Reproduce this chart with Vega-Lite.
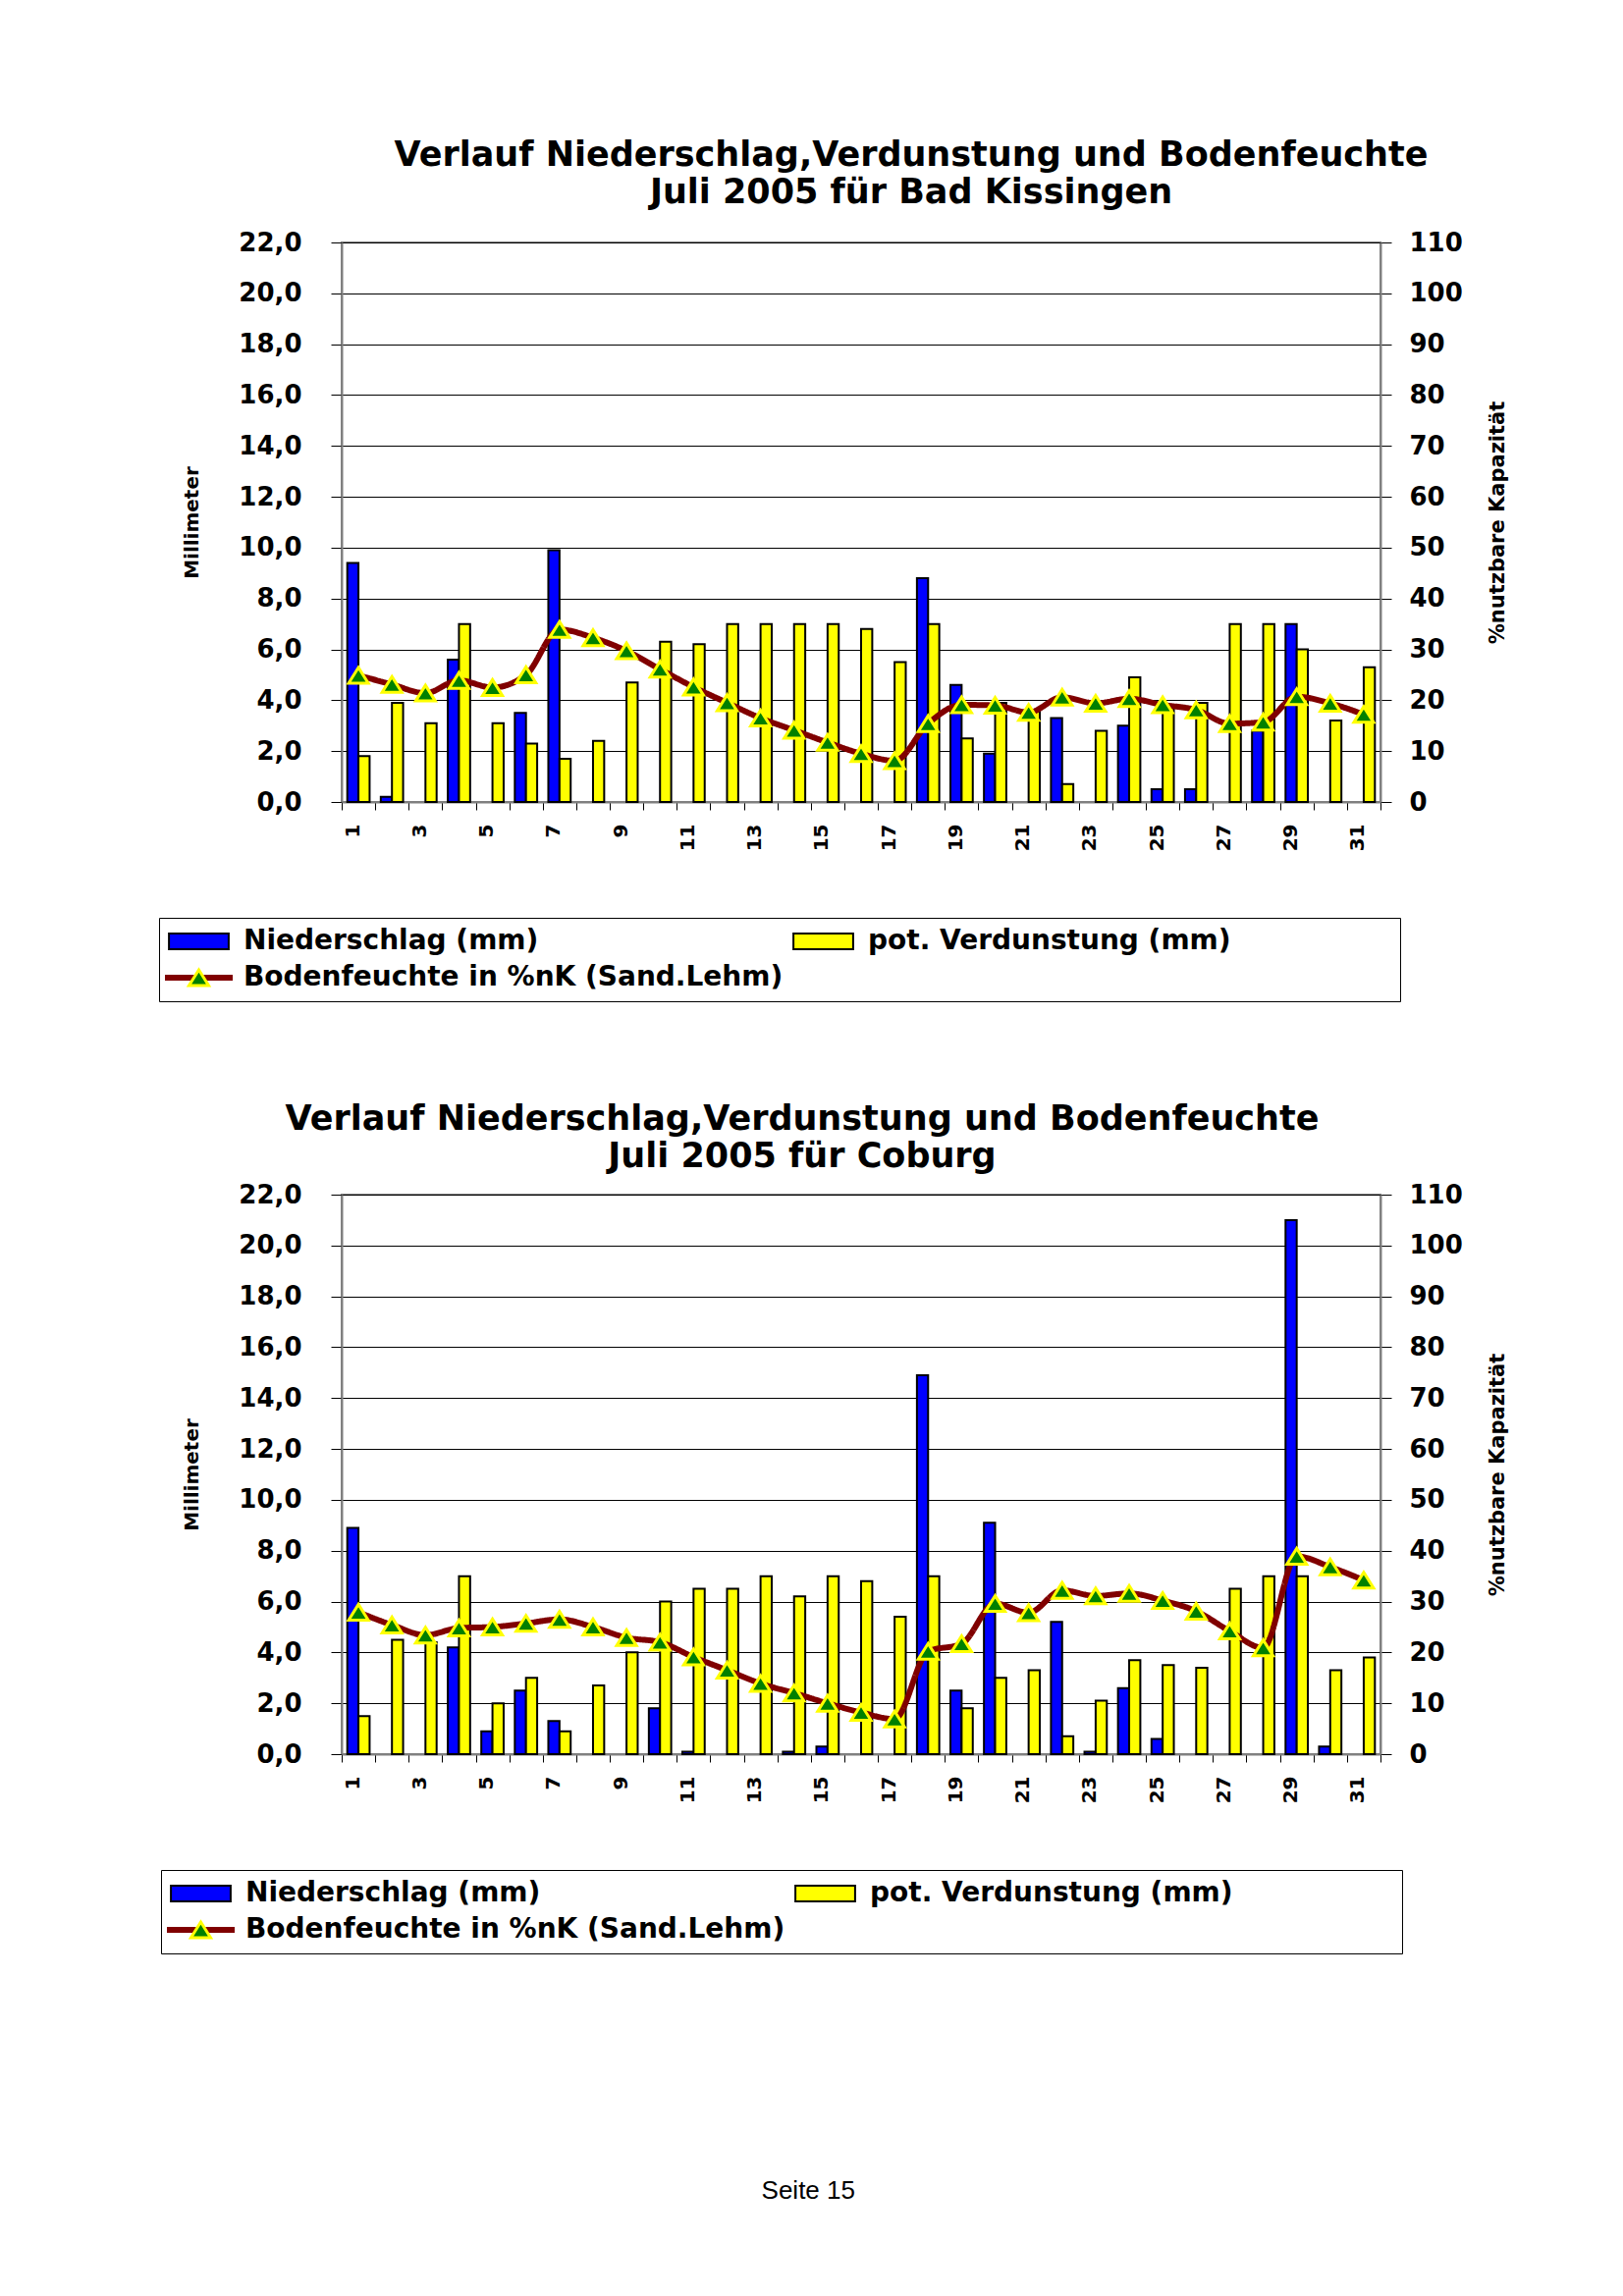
{
  "$schema": "https://vega.github.io/schema/vega-lite/v6.json",
  "background": "white",
  "padding": {"left": 160, "top": 140, "right": 10, "bottom": 10},
  "config": {
    "font": "DejaVu Sans",
    "view": {"stroke": "#808080", "strokeWidth": 2},
    "axis": {"labelFont": "DejaVu Sans", "labelFontWeight": "bold", "labelColor": "black", "titleFont": "DejaVu Sans", "titleFontWeight": "bold", "titleColor": "black", "tickColor": "black", "tickWidth": 1, "domainColor": "#808080", "domainWidth": 2, "labelOverlap": false, "labelFlush": false, "labelBound": false},
    "legend": {"labelFont": "DejaVu Sans", "labelFontWeight": "bold", "labelColor": "black", "labelLimit": 1000, "titleLimit": 1000},
    "title": {"font": "DejaVu Sans", "fontSize": 35, "fontWeight": "bold", "color": "black", "anchor": "middle", "frame": "group", "lineHeight": 38}
  },
  "datasets": {
    "bk_bars": [
      {"day": 1, "series": "Niederschlag (mm)", "value": 9.4},
      {"day": 2, "series": "Niederschlag (mm)", "value": 0.2},
      {"day": 4, "series": "Niederschlag (mm)", "value": 5.6},
      {"day": 6, "series": "Niederschlag (mm)", "value": 3.5},
      {"day": 7, "series": "Niederschlag (mm)", "value": 9.9},
      {"day": 18, "series": "Niederschlag (mm)", "value": 8.8},
      {"day": 19, "series": "Niederschlag (mm)", "value": 4.6},
      {"day": 20, "series": "Niederschlag (mm)", "value": 1.9},
      {"day": 22, "series": "Niederschlag (mm)", "value": 3.3},
      {"day": 24, "series": "Niederschlag (mm)", "value": 3.0},
      {"day": 25, "series": "Niederschlag (mm)", "value": 0.5},
      {"day": 26, "series": "Niederschlag (mm)", "value": 0.5},
      {"day": 28, "series": "Niederschlag (mm)", "value": 2.8},
      {"day": 29, "series": "Niederschlag (mm)", "value": 7.0},
      {"day": 1, "series": "pot. Verdunstung (mm)", "value": 1.8},
      {"day": 2, "series": "pot. Verdunstung (mm)", "value": 3.9},
      {"day": 3, "series": "pot. Verdunstung (mm)", "value": 3.1},
      {"day": 4, "series": "pot. Verdunstung (mm)", "value": 7.0},
      {"day": 5, "series": "pot. Verdunstung (mm)", "value": 3.1},
      {"day": 6, "series": "pot. Verdunstung (mm)", "value": 2.3},
      {"day": 7, "series": "pot. Verdunstung (mm)", "value": 1.7},
      {"day": 8, "series": "pot. Verdunstung (mm)", "value": 2.4},
      {"day": 9, "series": "pot. Verdunstung (mm)", "value": 4.7},
      {"day": 10, "series": "pot. Verdunstung (mm)", "value": 6.3},
      {"day": 11, "series": "pot. Verdunstung (mm)", "value": 6.2},
      {"day": 12, "series": "pot. Verdunstung (mm)", "value": 7.0},
      {"day": 13, "series": "pot. Verdunstung (mm)", "value": 7.0},
      {"day": 14, "series": "pot. Verdunstung (mm)", "value": 7.0},
      {"day": 15, "series": "pot. Verdunstung (mm)", "value": 7.0},
      {"day": 16, "series": "pot. Verdunstung (mm)", "value": 6.8},
      {"day": 17, "series": "pot. Verdunstung (mm)", "value": 5.5},
      {"day": 18, "series": "pot. Verdunstung (mm)", "value": 7.0},
      {"day": 19, "series": "pot. Verdunstung (mm)", "value": 2.5},
      {"day": 20, "series": "pot. Verdunstung (mm)", "value": 3.9},
      {"day": 21, "series": "pot. Verdunstung (mm)", "value": 3.6},
      {"day": 22, "series": "pot. Verdunstung (mm)", "value": 0.7},
      {"day": 23, "series": "pot. Verdunstung (mm)", "value": 2.8},
      {"day": 24, "series": "pot. Verdunstung (mm)", "value": 4.9},
      {"day": 25, "series": "pot. Verdunstung (mm)", "value": 3.8},
      {"day": 26, "series": "pot. Verdunstung (mm)", "value": 3.9},
      {"day": 27, "series": "pot. Verdunstung (mm)", "value": 7.0},
      {"day": 28, "series": "pot. Verdunstung (mm)", "value": 7.0},
      {"day": 29, "series": "pot. Verdunstung (mm)", "value": 6.0},
      {"day": 30, "series": "pot. Verdunstung (mm)", "value": 3.2},
      {"day": 31, "series": "pot. Verdunstung (mm)", "value": 5.3}
    ],
    "bk_line": [
      {"day": 1, "bf": 24.9, "series": "Bodenfeuchte in %nK (Sand.Lehm)", "m": "BF"},
      {"day": 2, "bf": 23.1, "series": "Bodenfeuchte in %nK (Sand.Lehm)", "m": "BF"},
      {"day": 3, "bf": 21.4, "series": "Bodenfeuchte in %nK (Sand.Lehm)", "m": "BF"},
      {"day": 4, "bf": 23.9, "series": "Bodenfeuchte in %nK (Sand.Lehm)", "m": "BF"},
      {"day": 5, "bf": 22.5, "series": "Bodenfeuchte in %nK (Sand.Lehm)", "m": "BF"},
      {"day": 6, "bf": 25.0, "series": "Bodenfeuchte in %nK (Sand.Lehm)", "m": "BF"},
      {"day": 7, "bf": 33.9, "series": "Bodenfeuchte in %nK (Sand.Lehm)", "m": "BF"},
      {"day": 8, "bf": 32.3, "series": "Bodenfeuchte in %nK (Sand.Lehm)", "m": "BF"},
      {"day": 9, "bf": 29.7, "series": "Bodenfeuchte in %nK (Sand.Lehm)", "m": "BF"},
      {"day": 10, "bf": 26.1, "series": "Bodenfeuchte in %nK (Sand.Lehm)", "m": "BF"},
      {"day": 11, "bf": 22.6, "series": "Bodenfeuchte in %nK (Sand.Lehm)", "m": "BF"},
      {"day": 12, "bf": 19.5, "series": "Bodenfeuchte in %nK (Sand.Lehm)", "m": "BF"},
      {"day": 13, "bf": 16.5, "series": "Bodenfeuchte in %nK (Sand.Lehm)", "m": "BF"},
      {"day": 14, "bf": 14.1, "series": "Bodenfeuchte in %nK (Sand.Lehm)", "m": "BF"},
      {"day": 15, "bf": 11.7, "series": "Bodenfeuchte in %nK (Sand.Lehm)", "m": "BF"},
      {"day": 16, "bf": 9.5, "series": "Bodenfeuchte in %nK (Sand.Lehm)", "m": "BF"},
      {"day": 17, "bf": 8.1, "series": "Bodenfeuchte in %nK (Sand.Lehm)", "m": "BF"},
      {"day": 18, "bf": 15.4, "series": "Bodenfeuchte in %nK (Sand.Lehm)", "m": "BF"},
      {"day": 19, "bf": 19.1, "series": "Bodenfeuchte in %nK (Sand.Lehm)", "m": "BF"},
      {"day": 20, "bf": 19.0, "series": "Bodenfeuchte in %nK (Sand.Lehm)", "m": "BF"},
      {"day": 21, "bf": 17.6, "series": "Bodenfeuchte in %nK (Sand.Lehm)", "m": "BF"},
      {"day": 22, "bf": 20.6, "series": "Bodenfeuchte in %nK (Sand.Lehm)", "m": "BF"},
      {"day": 23, "bf": 19.4, "series": "Bodenfeuchte in %nK (Sand.Lehm)", "m": "BF"},
      {"day": 24, "bf": 20.3, "series": "Bodenfeuchte in %nK (Sand.Lehm)", "m": "BF"},
      {"day": 25, "bf": 19.1, "series": "Bodenfeuchte in %nK (Sand.Lehm)", "m": "BF"},
      {"day": 26, "bf": 18.1, "series": "Bodenfeuchte in %nK (Sand.Lehm)", "m": "BF"},
      {"day": 27, "bf": 15.4, "series": "Bodenfeuchte in %nK (Sand.Lehm)", "m": "BF"},
      {"day": 28, "bf": 15.7, "series": "Bodenfeuchte in %nK (Sand.Lehm)", "m": "BF"},
      {"day": 29, "bf": 20.7, "series": "Bodenfeuchte in %nK (Sand.Lehm)", "m": "BF"},
      {"day": 30, "bf": 19.4, "series": "Bodenfeuchte in %nK (Sand.Lehm)", "m": "BF"},
      {"day": 31, "bf": 17.2, "series": "Bodenfeuchte in %nK (Sand.Lehm)", "m": "BF"}
    ],
    "co_bars": [
      {"day": 1, "series": "Niederschlag (mm)", "value": 8.9},
      {"day": 4, "series": "Niederschlag (mm)", "value": 4.2},
      {"day": 5, "series": "Niederschlag (mm)", "value": 0.9},
      {"day": 6, "series": "Niederschlag (mm)", "value": 2.5},
      {"day": 7, "series": "Niederschlag (mm)", "value": 1.3},
      {"day": 10, "series": "Niederschlag (mm)", "value": 1.8},
      {"day": 11, "series": "Niederschlag (mm)", "value": 0.1},
      {"day": 14, "series": "Niederschlag (mm)", "value": 0.1},
      {"day": 15, "series": "Niederschlag (mm)", "value": 0.3},
      {"day": 18, "series": "Niederschlag (mm)", "value": 14.9},
      {"day": 19, "series": "Niederschlag (mm)", "value": 2.5},
      {"day": 20, "series": "Niederschlag (mm)", "value": 9.1},
      {"day": 22, "series": "Niederschlag (mm)", "value": 5.2},
      {"day": 23, "series": "Niederschlag (mm)", "value": 0.1},
      {"day": 24, "series": "Niederschlag (mm)", "value": 2.6},
      {"day": 25, "series": "Niederschlag (mm)", "value": 0.6},
      {"day": 29, "series": "Niederschlag (mm)", "value": 21.0},
      {"day": 30, "series": "Niederschlag (mm)", "value": 0.3},
      {"day": 1, "series": "pot. Verdunstung (mm)", "value": 1.5},
      {"day": 2, "series": "pot. Verdunstung (mm)", "value": 4.5},
      {"day": 3, "series": "pot. Verdunstung (mm)", "value": 4.4},
      {"day": 4, "series": "pot. Verdunstung (mm)", "value": 7.0},
      {"day": 5, "series": "pot. Verdunstung (mm)", "value": 2.0},
      {"day": 6, "series": "pot. Verdunstung (mm)", "value": 3.0},
      {"day": 7, "series": "pot. Verdunstung (mm)", "value": 0.9},
      {"day": 8, "series": "pot. Verdunstung (mm)", "value": 2.7},
      {"day": 9, "series": "pot. Verdunstung (mm)", "value": 4.0},
      {"day": 10, "series": "pot. Verdunstung (mm)", "value": 6.0},
      {"day": 11, "series": "pot. Verdunstung (mm)", "value": 6.5},
      {"day": 12, "series": "pot. Verdunstung (mm)", "value": 6.5},
      {"day": 13, "series": "pot. Verdunstung (mm)", "value": 7.0},
      {"day": 14, "series": "pot. Verdunstung (mm)", "value": 6.2},
      {"day": 15, "series": "pot. Verdunstung (mm)", "value": 7.0},
      {"day": 16, "series": "pot. Verdunstung (mm)", "value": 6.8},
      {"day": 17, "series": "pot. Verdunstung (mm)", "value": 5.4},
      {"day": 18, "series": "pot. Verdunstung (mm)", "value": 7.0},
      {"day": 19, "series": "pot. Verdunstung (mm)", "value": 1.8},
      {"day": 20, "series": "pot. Verdunstung (mm)", "value": 3.0},
      {"day": 21, "series": "pot. Verdunstung (mm)", "value": 3.3},
      {"day": 22, "series": "pot. Verdunstung (mm)", "value": 0.7},
      {"day": 23, "series": "pot. Verdunstung (mm)", "value": 2.1},
      {"day": 24, "series": "pot. Verdunstung (mm)", "value": 3.7},
      {"day": 25, "series": "pot. Verdunstung (mm)", "value": 3.5},
      {"day": 26, "series": "pot. Verdunstung (mm)", "value": 3.4},
      {"day": 27, "series": "pot. Verdunstung (mm)", "value": 6.5},
      {"day": 28, "series": "pot. Verdunstung (mm)", "value": 7.0},
      {"day": 29, "series": "pot. Verdunstung (mm)", "value": 7.0},
      {"day": 30, "series": "pot. Verdunstung (mm)", "value": 3.3},
      {"day": 31, "series": "pot. Verdunstung (mm)", "value": 3.8}
    ],
    "co_line": [
      {"day": 1, "bf": 27.9, "series": "Bodenfeuchte in %nK (Sand.Lehm)", "m": "BF"},
      {"day": 2, "bf": 25.4, "series": "Bodenfeuchte in %nK (Sand.Lehm)", "m": "BF"},
      {"day": 3, "bf": 23.4, "series": "Bodenfeuchte in %nK (Sand.Lehm)", "m": "BF"},
      {"day": 4, "bf": 24.8, "series": "Bodenfeuchte in %nK (Sand.Lehm)", "m": "BF"},
      {"day": 5, "bf": 25.0, "series": "Bodenfeuchte in %nK (Sand.Lehm)", "m": "BF"},
      {"day": 6, "bf": 25.7, "series": "Bodenfeuchte in %nK (Sand.Lehm)", "m": "BF"},
      {"day": 7, "bf": 26.5, "series": "Bodenfeuchte in %nK (Sand.Lehm)", "m": "BF"},
      {"day": 8, "bf": 25.0, "series": "Bodenfeuchte in %nK (Sand.Lehm)", "m": "BF"},
      {"day": 9, "bf": 22.9, "series": "Bodenfeuchte in %nK (Sand.Lehm)", "m": "BF"},
      {"day": 10, "bf": 22.0, "series": "Bodenfeuchte in %nK (Sand.Lehm)", "m": "BF"},
      {"day": 11, "bf": 19.1, "series": "Bodenfeuchte in %nK (Sand.Lehm)", "m": "BF"},
      {"day": 12, "bf": 16.5, "series": "Bodenfeuchte in %nK (Sand.Lehm)", "m": "BF"},
      {"day": 13, "bf": 13.9, "series": "Bodenfeuchte in %nK (Sand.Lehm)", "m": "BF"},
      {"day": 14, "bf": 12.0, "series": "Bodenfeuchte in %nK (Sand.Lehm)", "m": "BF"},
      {"day": 15, "bf": 10.0, "series": "Bodenfeuchte in %nK (Sand.Lehm)", "m": "BF"},
      {"day": 16, "bf": 8.2, "series": "Bodenfeuchte in %nK (Sand.Lehm)", "m": "BF"},
      {"day": 17, "bf": 6.9, "series": "Bodenfeuchte in %nK (Sand.Lehm)", "m": "BF"},
      {"day": 18, "bf": 20.2, "series": "Bodenfeuchte in %nK (Sand.Lehm)", "m": "BF"},
      {"day": 19, "bf": 21.7, "series": "Bodenfeuchte in %nK (Sand.Lehm)", "m": "BF"},
      {"day": 20, "bf": 29.6, "series": "Bodenfeuchte in %nK (Sand.Lehm)", "m": "BF"},
      {"day": 21, "bf": 27.8, "series": "Bodenfeuchte in %nK (Sand.Lehm)", "m": "BF"},
      {"day": 22, "bf": 32.2, "series": "Bodenfeuchte in %nK (Sand.Lehm)", "m": "BF"},
      {"day": 23, "bf": 31.1, "series": "Bodenfeuchte in %nK (Sand.Lehm)", "m": "BF"},
      {"day": 24, "bf": 31.6, "series": "Bodenfeuchte in %nK (Sand.Lehm)", "m": "BF"},
      {"day": 25, "bf": 30.2, "series": "Bodenfeuchte in %nK (Sand.Lehm)", "m": "BF"},
      {"day": 26, "bf": 28.1, "series": "Bodenfeuchte in %nK (Sand.Lehm)", "m": "BF"},
      {"day": 27, "bf": 24.2, "series": "Bodenfeuchte in %nK (Sand.Lehm)", "m": "BF"},
      {"day": 28, "bf": 20.9, "series": "Bodenfeuchte in %nK (Sand.Lehm)", "m": "BF"},
      {"day": 29, "bf": 38.9, "series": "Bodenfeuchte in %nK (Sand.Lehm)", "m": "BF"},
      {"day": 30, "bf": 36.8, "series": "Bodenfeuchte in %nK (Sand.Lehm)", "m": "BF"},
      {"day": 31, "bf": 34.2, "series": "Bodenfeuchte in %nK (Sand.Lehm)", "m": "BF"}
    ]
  },
  "title": {"text": "Seite 15", "orient": "bottom", "anchor": "middle", "frame": "bounds", "font": "Liberation Sans", "fontSize": 26, "fontWeight": "normal", "color": "black", "offset": 227, "dx": -25},
  "spacing": 400,
  "bounds": "flush",
  "resolve": {"scale": {"color": "independent", "stroke": "independent", "strokeDash": "independent", "shape": "independent"}, "legend": {"color": "independent", "stroke": "independent", "strokeDash": "independent", "shape": "independent"}},
  "vconcat": [
    {
      "width": 1058,
      "height": 570,
      "title": {"text": ["Verlauf Niederschlag,Verdunstung und Bodenfeuchte", "Juli  2005 für Bad Kissingen"], "dx": 51, "offset": 20},
      "layer": [
        {
          "data": {"name": "bk_bars"},
          "mark": {"type": "bar", "strokeWidth": 2},
          "encoding": {
            "x": {"field": "day", "type": "ordinal", "scale": {"paddingInner": 0, "paddingOuter": 0}, "axis": {"title": null, "labelAngle": 270, "labelAlign": "right", "labelBaseline": "middle", "labelFontSize": 20, "labelPadding": 14, "labelOffset": -6, "tickBand": "extent", "tickSize": 8, "grid": false, "labelExpr": "datum.value % 2 == 1 ? datum.label : ''"}},
            "xOffset": {"field": "series", "type": "nominal", "scale": {"domain": ["Niederschlag (mm)", "pot. Verdunstung (mm)"], "paddingInner": 0, "paddingOuter": 0.5}},
            "y": {"field": "value", "type": "quantitative", "scale": {"domain": [0, 22], "nice": false}, "axis": {"title": "Millimeter", "titleFontSize": 20, "titleAngle": 270, "titleX": -153, "titleY": 285, "titleAlign": "center", "titleBaseline": "middle", "values": [0, 2, 4, 6, 8, 10, 12, 14, 16, 18, 20, 22], "labelExpr": "replace(format(datum.value, '.1f'), '.', ',')", "labelFontSize": 26, "labelPadding": 30, "tickSize": 11, "grid": true, "gridColor": "black", "gridWidth": 1, "gridOpacity": 1}},
            "stroke": {"field": "series", "type": "nominal", "scale": {"domain": ["Niederschlag (mm)", "Bodenfeuchte in %nK (Sand.Lehm)", "pot. Verdunstung (mm)"], "range": ["#000000", "transparent", "#000000"]}},
            "color": {"field": "series", "type": "nominal", "scale": {"domain": ["Niederschlag (mm)", "Bodenfeuchte in %nK (Sand.Lehm)", "pot. Verdunstung (mm)"], "range": ["#0000FF", "transparent", "#FFFF00"]},
              "legend": {"orient": "none", "legendX": -186, "legendY": 688, "title": "MMMMM", "titleOrient": "right", "titleFontSize": 28, "titleFontWeight": "bold", "titleOpacity": 0, "titlePadding": 22, "columns": 2, "columnPadding": 6, "rowPadding": 9, "padding": 10, "strokeColor": "black", "fillColor": "white", "labelFontSize": 28, "labelOffset": 31.5, "symbolSize": 256, "symbolOffset": 16.5, "symbolStrokeWidth": 2, "symbolType": "M-3.8,-1H3.8V1H-3.8Z"}
            }
          }
        },
        {
          "data": {"name": "bk_line"},
          "encoding": {
            "x": {"field": "day", "type": "ordinal"},
            "y": {"field": "bf", "type": "quantitative", "scale": {"domain": [0, 110], "nice": false}, "axis": {"orient": "right", "title": "%nutzbare Kapazität", "titleFontSize": 21, "titleAngle": 270, "titleX": 119, "titleY": 285, "titleAlign": "center", "titleBaseline": "middle", "values": [0, 10, 20, 30, 40, 50, 60, 70, 80, 90, 100, 110], "format": "d", "labelFontSize": 26, "labelPadding": 18, "tickSize": 11, "grid": false}}
          },
          "layer": [
            {"mark": {"type": "line", "interpolate": "monotone", "strokeWidth": 6, "color": "#800000"},
             "encoding": {"strokeDash": {"field": "m", "type": "nominal", "scale": {"domain": ["BF"], "range": [[1, 0]]},
               "legend": {"orient": "none", "legendX": -183, "legendY": 711.5, "title": null, "labelExpr": "''", "padding": 0, "symbolType": "stroke", "symbolSize": 4761, "symbolOffset": 0, "symbolStrokeWidth": 6, "symbolStrokeColor": "#800000"}}}},
            {"mark": {"type": "point", "filled": true, "fill": "#008000", "stroke": "#FFFF00", "strokeWidth": 3, "size": 400, "opacity": 1},
             "encoding": {"shape": {"field": "series", "type": "nominal", "scale": {"domain": ["Bodenfeuchte in %nK (Sand.Lehm)"], "range": ["M-1,0.8H1L0,-0.8Z"]},
               "legend": {"orient": "none", "legendX": -157, "legendY": 737.5, "title": null, "labelExpr": "''", "padding": 0, "symbolSize": 400, "symbolOffset": 0, "symbolStrokeWidth": 3,
                 "encode": {"symbols": {"update": {"fill": {"value": "#008000"}, "stroke": {"value": "#FFFF00"}, "strokeWidth": {"value": 3}, "opacity": {"value": 1}}}}}}}}
          ]
        }
      ],
      "resolve": {"scale": {"y": "independent"}}
    },
    {
      "width": 1058,
      "height": 570,
      "title": {"text": ["Verlauf Niederschlag,Verdunstung und Bodenfeuchte", "Juli 2005 für Coburg"], "dx": -60, "offset": 8},
      "layer": [
        {
          "data": {"name": "co_bars"},
          "mark": {"type": "bar", "strokeWidth": 2},
          "encoding": {
            "x": {"field": "day", "type": "ordinal", "scale": {"paddingInner": 0, "paddingOuter": 0}, "axis": {"title": null, "labelAngle": 270, "labelAlign": "right", "labelBaseline": "middle", "labelFontSize": 20, "labelPadding": 14, "labelOffset": -6, "tickBand": "extent", "tickSize": 8, "grid": false, "labelExpr": "datum.value % 2 == 1 ? datum.label : ''"}},
            "xOffset": {"field": "series", "type": "nominal", "scale": {"domain": ["Niederschlag (mm)", "pot. Verdunstung (mm)"], "paddingInner": 0, "paddingOuter": 0.5}},
            "y": {"field": "value", "type": "quantitative", "scale": {"domain": [0, 22], "nice": false}, "axis": {"title": "Millimeter", "titleFontSize": 20, "titleAngle": 270, "titleX": -153, "titleY": 285, "titleAlign": "center", "titleBaseline": "middle", "values": [0, 2, 4, 6, 8, 10, 12, 14, 16, 18, 20, 22], "labelExpr": "replace(format(datum.value, '.1f'), '.', ',')", "labelFontSize": 26, "labelPadding": 30, "tickSize": 11, "grid": true, "gridColor": "black", "gridWidth": 1, "gridOpacity": 1}},
            "stroke": {"field": "series", "type": "nominal", "scale": {"domain": ["Niederschlag (mm)", "Bodenfeuchte in %nK (Sand.Lehm)", "pot. Verdunstung (mm)"], "range": ["#000000", "transparent", "#000000"]}},
            "color": {"field": "series", "type": "nominal", "scale": {"domain": ["Niederschlag (mm)", "Bodenfeuchte in %nK (Sand.Lehm)", "pot. Verdunstung (mm)"], "range": ["#0000FF", "transparent", "#FFFF00"]},
              "legend": {"orient": "none", "legendX": -184, "legendY": 688, "title": "MMMMM", "titleOrient": "right", "titleFontSize": 28, "titleFontWeight": "bold", "titleOpacity": 0, "titlePadding": 22, "columns": 2, "columnPadding": 6, "rowPadding": 9, "padding": 10, "strokeColor": "black", "fillColor": "white", "labelFontSize": 28, "labelOffset": 31.5, "symbolSize": 256, "symbolOffset": 16.5, "symbolStrokeWidth": 2, "symbolType": "M-3.8,-1H3.8V1H-3.8Z"}
            }
          }
        },
        {
          "data": {"name": "co_line"},
          "encoding": {
            "x": {"field": "day", "type": "ordinal"},
            "y": {"field": "bf", "type": "quantitative", "scale": {"domain": [0, 110], "nice": false}, "axis": {"orient": "right", "title": "%nutzbare Kapazität", "titleFontSize": 21, "titleAngle": 270, "titleX": 119, "titleY": 285, "titleAlign": "center", "titleBaseline": "middle", "values": [0, 10, 20, 30, 40, 50, 60, 70, 80, 90, 100, 110], "format": "d", "labelFontSize": 26, "labelPadding": 18, "tickSize": 11, "grid": false}}
          },
          "layer": [
            {"mark": {"type": "line", "interpolate": "monotone", "strokeWidth": 6, "color": "#800000"},
             "encoding": {"strokeDash": {"field": "m", "type": "nominal", "scale": {"domain": ["BF"], "range": [[1, 0]]},
               "legend": {"orient": "none", "legendX": -181, "legendY": 711.5, "title": null, "labelExpr": "''", "padding": 0, "symbolType": "stroke", "symbolSize": 4761, "symbolOffset": 0, "symbolStrokeWidth": 6, "symbolStrokeColor": "#800000"}}}},
            {"mark": {"type": "point", "filled": true, "fill": "#008000", "stroke": "#FFFF00", "strokeWidth": 3, "size": 400, "opacity": 1},
             "encoding": {"shape": {"field": "series", "type": "nominal", "scale": {"domain": ["Bodenfeuchte in %nK (Sand.Lehm)"], "range": ["M-1,0.8H1L0,-0.8Z"]},
               "legend": {"orient": "none", "legendX": -155, "legendY": 737.5, "title": null, "labelExpr": "''", "padding": 0, "symbolSize": 400, "symbolOffset": 0, "symbolStrokeWidth": 3,
                 "encode": {"symbols": {"update": {"fill": {"value": "#008000"}, "stroke": {"value": "#FFFF00"}, "strokeWidth": {"value": 3}, "opacity": {"value": 1}}}}}}}}
          ]
        }
      ],
      "resolve": {"scale": {"y": "independent"}}
    }
  ]
}
